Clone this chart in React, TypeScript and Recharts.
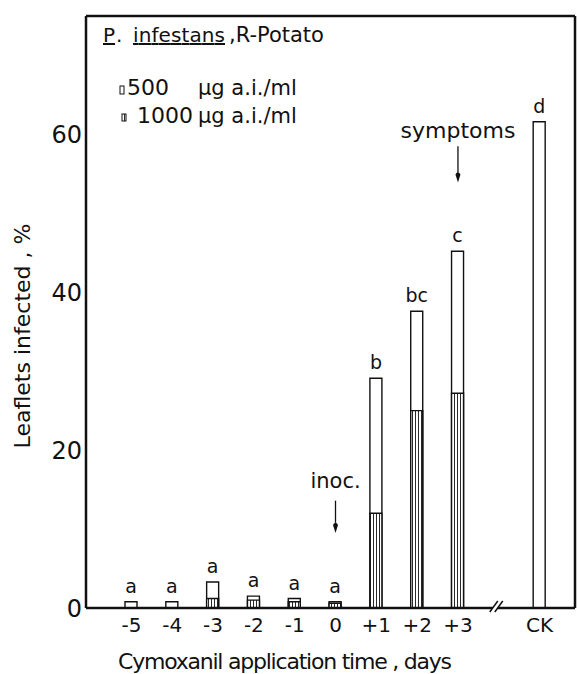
import React from 'react';
import {
  BarChart,
  Bar,
  XAxis,
  YAxis,
  LabelList,
  ReferenceLine,
  ReferenceDot,
} from 'recharts';

// application day relative to inoculation, '//' is the axis break slot
const days = ['-5', '-4', '-3', '-2', '-1', '0', '+1', '+2', '+3', '//', 'CK'];
const rate500 = [0.8, 0.8, 3.3, 1.5, 1.2, 0.8, 29.1, 37.6, 45.2, null, 61.6];
const rate1000 = [0, 0, 1.2, 1.0, 0.8, 0.6, 12.0, 25.0, 27.2, null, null];
const groups = ['a', 'a', 'a', 'a', 'a', 'a', 'b', 'bc', 'c', '', 'd'];

const yLabelTicks = [0, 20, 40, 60];
const yMinorTicks = [0, 10, 20, 30, 40, 50, 60, 70];

const data = days.map((day, i) => ({
  day,
  r500: rate500[i],
  r1000: rate1000[i],
  grp: groups[i],
}));

const INK = '#111';
const FONT = '"DejaVu Sans", sans-serif';
const W = 400;

const Arrowhead = (props: any) => {
  const { cx, cy } = props;
  return (
    <path
      d={`M${cx},${cy} L${cx - 2.5},${cy - 8} Q${cx},${cy - 13} ${cx + 2.5},${cy - 8} Z`}
      fill={INK}
    />
  );
};

const AxisBreak = (props: any) => {
  const { cx, cy } = props;
  return (
    <g>
      <polygon
        points={`${cx - 9},${cy + 4} ${cx - 1},${cy - 7} ${cx + 4},${cy - 7} ${cx - 4},${cy + 4}`}
        fill="#fff"
      />
      <line x1={cx - 9} y1={cy + 4} x2={cx - 1} y2={cy - 7} stroke={INK} strokeWidth={1.5} />
      <line x1={cx - 4} y1={cy + 4} x2={cx + 4} y2={cy - 7} stroke={INK} strokeWidth={1.5} />
    </g>
  );
};

const App: React.FC = () => {
  return (
    <div style={{ position: 'absolute', left: 0, top: 0, width: 578, height: 674, background: '#fff' }}>
      <BarChart
        width={578}
        height={674}
        data={data}
        margin={{ top: 16, right: 3, bottom: 26, left: 26 }}
        barSize={12}
        barGap={-12}
        style={{ fontFamily: FONT }}
      >
        <defs>
          <pattern id="vhatch" patternUnits="userSpaceOnUse" width={3} height={6}>
            <rect width={3} height={6} fill="#fff" />
            <line x1={1.5} y1={0} x2={1.5} y2={6} stroke={INK} strokeWidth={0.9} />
          </pattern>
        </defs>

        <XAxis
          dataKey="day"
          height={40}
          padding={{ left: 25, right: 15 }}
          tickSize={0}
          tickMargin={10}
          tickFormatter={(v: string) => (v === '//' ? '' : v)}
          tick={{ fontSize: 20, fill: INK, fontWeight: W }}
          axisLine={{ stroke: INK, strokeWidth: 2.5 }}
          interval={0}
        />
        <YAxis
          yAxisId="left"
          domain={[0, 75]}
          ticks={yLabelTicks}
          width={60}
          tickSize={0}
          tickMargin={4}
          tick={{ fontSize: 24, fill: INK, fontWeight: W }}
          axisLine={{ stroke: INK, strokeWidth: 2.5 }}
        />
        <YAxis
          yAxisId="leftMinor"
          domain={[0, 75]}
          ticks={yMinorTicks}
          mirror
          tickSize={7}
          tickFormatter={() => ''}
          axisLine={false}
          tickLine={{ stroke: INK, strokeWidth: 1 }}
        />
        <YAxis
          yAxisId="right"
          orientation="right"
          domain={[0, 75]}
          ticks={yMinorTicks}
          mirror
          tickSize={6}
          tickFormatter={() => ''}
          axisLine={{ stroke: INK, strokeWidth: 2.5 }}
          tickLine={{ stroke: INK, strokeWidth: 1 }}
        />

        <ReferenceLine yAxisId="left" y={75} stroke={INK} strokeWidth={2.5} />

        <Bar yAxisId="left" dataKey="r500" fill="#fff" stroke={INK} strokeWidth={1.4} isAnimationActive={false}>
          <LabelList
            dataKey="grp"
            position="top"
            offset={9}
            style={{ fontSize: 19, fill: INK, fontWeight: W }}
          />
        </Bar>
        <Bar yAxisId="left" dataKey="r1000" fill="url(#vhatch)" stroke={INK} strokeWidth={1.4} isAnimationActive={false} />

        <ReferenceDot yAxisId="left" x="//" y={0} shape={AxisBreak} />

        {/* symptoms arrow over +3 */}
        <ReferenceLine
          yAxisId="left"
          segment={[{ x: '+3', y: 58.5 }, { x: '+3', y: 55.2 }]}
          stroke={INK}
          strokeWidth={1.3}
          label={{ value: 'symptoms', position: 'top', offset: 8, fontSize: 22, fill: INK, fontWeight: W }}
        />
        <ReferenceDot yAxisId="left" x="+3" y={53.9} shape={Arrowhead} />

        {/* inoculation arrow over 0 */}
        <ReferenceLine
          yAxisId="left"
          segment={[{ x: '0', y: 13.6 }, { x: '0', y: 10.8 }]}
          stroke={INK}
          strokeWidth={1.3}
          label={{ value: 'inoc.', position: 'top', offset: 13, fontSize: 21, fill: INK, fontWeight: W }}
        />
        <ReferenceDot yAxisId="left" x="0" y={9.5} shape={Arrowhead} />

        {/* title and legend */}
        <g fill={INK} fontWeight={W}>
          <text x={103} y={42} fontSize={20} style={{ textDecoration: 'underline' }}>P</text>
          <text x={116} y={42} fontSize={20}>.</text>
          <text x={133} y={42} fontSize={20} textLength={92} style={{ textDecoration: 'underline' }}>infestans</text>
          <text x={229} y={42} fontSize={21}>,R-Potato</text>

          <rect x={120} y={86} width={4} height={8} fill="#fff" stroke={INK} strokeWidth={1} />
          <text x={127} y={95} fontSize={22}>500</text>
          <text x={198} y={95} fontSize={21}>μg a.i./ml</text>
          <rect x={122} y={114} width={4} height={7} fill="url(#vhatch)" stroke={INK} strokeWidth={1} />
          <text x={137} y={123} fontSize={22}>1000</text>
          <text x={198} y={123} fontSize={21}>μg a.i./ml</text>

          {/* axis titles */}
          <text
            x={22}
            y={336}
            fontSize={22}
            textAnchor="middle"
            dominantBaseline="central"
            textLength={225}
            transform="rotate(-90, 22, 336)"
          >
            Leaflets infected , %
          </text>
          <text x={285} y={669} fontSize={22} textAnchor="middle" textLength={334}>
            Cymoxanil application time , days
          </text>
        </g>
      </BarChart>
    </div>
  );
};

export default App;
